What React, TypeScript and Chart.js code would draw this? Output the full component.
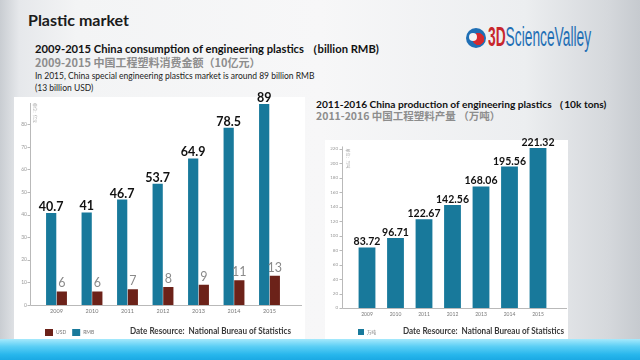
import React, { useEffect, useRef } from "react";
import { Chart, registerables } from "chart.js";

Chart.register(...registerables);

// ---- data ----
const consumptionYears = ["2009", "2010", "2011", "2012", "2013", "2014", "2015"];
const rmbValues = [40.7, 41, 46.7, 53.7, 64.9, 78.5, 89];
const usdValues = [6, 6, 7, 8, 9, 11, 13];
const consumptionTicks = [0, 10, 20, 30, 40, 50, 60, 70, 80];

const productionYears = ["2009", "2010", "2011", "2012", "2013", "2014", "2015"];
const productionValues = [83.72, 96.71, 122.67, 142.56, 168.06, 195.56, 221.32];
const productionTicks = [0, 20, 40, 60, 80, 100, 120, 140, 160, 180, 200, 220];

const BLUE = "#18799b";
const BROWN = "#6c2219";
const FONT = "Lato, 'Liberation Sans', sans-serif";

const decorPlugin = {
  id: "decor",
  afterDatasetsDraw(chart: any, _args: any, opts: any) {
    const { ctx, chartArea } = chart;
    const ys = chart.scales.y;
    const axisX = Math.round(chartArea.left - opts.leftGap) + 0.5;
    const axisY = Math.round(chartArea.bottom) + 0.5;
    ctx.save();
    ctx.strokeStyle = "#b9b9b9";
    ctx.lineWidth = 1;
    ctx.beginPath();
    ctx.moveTo(axisX, chartArea.top - 1);
    ctx.lineTo(axisX, axisY);
    ctx.lineTo(chartArea.right + opts.rightGap, axisY);
    ys.ticks.forEach((t: any) => {
      const py = Math.round(ys.getPixelForValue(t.value)) + 0.5;
      ctx.moveTo(axisX - 3, py);
      ctx.lineTo(axisX, py);
    });
    ctx.stroke();

    // value labels
    chart.data.datasets.forEach((ds: any, di: number) => {
      const st = opts.labels[di];
      const meta = chart.getDatasetMeta(di);
      ctx.font = st.font;
      ctx.fillStyle = st.color;
      ctx.textAlign = "center";
      ctx.textBaseline = "alphabetic";
      meta.data.forEach((el: any, i: number) => {
        ctx.fillText(String(ds.data[i]), el.x + (st.dx || 0), el.y - st.gap);
      });
    });

    // legend
    const lg = opts.legend;
    let lx = chartArea.left + lg.dx;
    const ly = chartArea.bottom + lg.dy;
    ctx.font = lg.font;
    ctx.textAlign = "left";
    ctx.textBaseline = "middle";
    lg.order.forEach((di: number) => {
      const ds = chart.data.datasets[di];
      ctx.fillStyle = ds.backgroundColor;
      ctx.fillRect(lx, ly, lg.boxW, lg.boxH);
      ctx.fillStyle = "#777";
      ctx.fillText(ds.label, lx + lg.boxW + 3, ly + lg.boxH / 2);
      lx += lg.boxW + 3 + ctx.measureText(ds.label).width + lg.gap;
    });

    // unit text (tiny, rotated)
    const u = opts.unit;
    ctx.save();
    ctx.translate(axisX + u.dx, chartArea.top + u.dy);
    ctx.rotate(Math.PI / 2);
    ctx.font = "4px 'Noto Sans CJK SC', sans-serif";
    ctx.fillStyle = "#aaa";
    ctx.textAlign = "left";
    ctx.textBaseline = "middle";
    ctx.fillText(u.text, 0, 0);
    ctx.restore();

    ctx.restore();
  },
};

function ConsumptionChart() {
  const ref = useRef<HTMLCanvasElement>(null);
  useEffect(() => {
    const chart = new Chart(ref.current as HTMLCanvasElement, {
      type: "bar",
      data: {
        labels: consumptionYears,
        datasets: [
          { label: "RMB", data: rmbValues, backgroundColor: BLUE },
          { label: "USD", data: usdValues, backgroundColor: BROWN },
        ],
      },
      options: {
        responsive: false,
        animation: false,
        events: [],
        categoryPercentage: 0.6,
        barPercentage: 0.96,
        layout: { padding: { top: 16, right: 14.75, left: 0, bottom: 0 } },
        scales: {
          x: {
            grid: { display: false, drawTicks: false },
            border: { display: false },
            ticks: { font: { size: 5.5, family: FONT }, color: "#777", padding: 3, maxRotation: 0 },
            afterFit: (s: any) => { s.height = 33; },
          },
          y: {
            min: 0,
            max: 89,
            grid: { display: false, drawTicks: false },
            border: { display: false },
            ticks: { font: { size: 5, family: FONT }, color: "#999", padding: 11.75 },
            afterBuildTicks: (s: any) => { s.ticks = consumptionTicks.map((v) => ({ value: v })); },
            afterFit: (s: any) => { s.width = 24.75; },
          },
        },
        plugins: {
          legend: { display: false },
          tooltip: { enabled: false },
          decor: {
            leftGap: 8.75,
            rightGap: 14.75,
            labels: [
              { font: `bold 12.5px ${FONT}`, color: "#111", gap: 2 },
              { font: `12.5px ${FONT}`, color: "#8a8a8a", gap: 4 },
            ],
            legend: { dx: 6.25, dy: 24, boxW: 8, boxH: 7, gap: 6, order: [1, 0], font: `5px ${FONT}` },
            unit: { dx: 4, dy: -1, text: "单位：亿元" },
          },
        } as any,
      },
      plugins: [decorPlugin],
    } as any);
    return () => chart.destroy();
  }, []);
  return <canvas ref={ref} width={288} height={250} style={{ position: "absolute", left: 14, top: 88 }} />;
}

function ProductionChart() {
  const ref = useRef<HTMLCanvasElement>(null);
  useEffect(() => {
    const chart = new Chart(ref.current as HTMLCanvasElement, {
      type: "bar",
      data: {
        labels: productionYears,
        datasets: [{ label: "万吨", data: productionValues, backgroundColor: BLUE }],
      },
      options: {
        responsive: false,
        animation: false,
        events: [],
        categoryPercentage: 1,
        barPercentage: 0.59,
        layout: { padding: { top: 15.5, right: 15.75, left: 0, bottom: 0 } },
        scales: {
          x: {
            grid: { display: false, drawTicks: false },
            border: { display: false },
            ticks: { font: { size: 5, family: FONT }, color: "#777", padding: 3, maxRotation: 0 },
            afterFit: (s: any) => { s.height = 30; },
          },
          y: {
            min: 0,
            max: 222,
            grid: { display: false, drawTicks: false },
            border: { display: false },
            ticks: { font: { size: 4.5, family: FONT }, color: "#999", padding: 14.75 },
            afterBuildTicks: (s: any) => { s.ticks = productionTicks.map((v) => ({ value: v })); },
            afterFit: (s: any) => { s.width = 25.75; },
          },
        },
        plugins: {
          legend: { display: false },
          tooltip: { enabled: false },
          decor: {
            leftGap: 10.75,
            rightGap: 14.75,
            labels: [{ font: `bold 10.5px ${FONT}`, color: "#111", gap: 2 }],
            legend: { dx: 5.25, dy: 21, boxW: 6, boxH: 6, gap: 6, order: [0], font: `4.5px 'Noto Sans CJK SC', sans-serif` },
            unit: { dx: 5, dy: 1, text: "单位：万吨" },
          },
        } as any,
      },
      plugins: [decorPlugin],
    } as any);
    return () => chart.destroy();
  }, []);
  return <canvas ref={ref} width={241} height={208} style={{ position: "absolute", left: 327, top: 130 }} />;
}

const abs = (o: any) => ({ position: "absolute" as const, whiteSpace: "nowrap" as const, lineHeight: 1, ...o });

export default function App() {
  useEffect(() => {
    document.body.style.margin = "0";
  }, []);
  return (
    <div
      style={{
        position: "fixed",
        left: 0,
        top: 0,
        width: 640,
        height: 360,
        overflow: "hidden",
        fontFamily: FONT,
        background:
          "linear-gradient(90deg, #c9cdd2 0%, #e6e8eb 3%, #f3f4f5 12%, #f7f7f8 50%, #eceef0 82%, #d5d8dc 95%, #c6cacf 100%)",
      }}
    >
      <div style={abs({ left: 28, top: 12, fontSize: 16, fontWeight: 700, color: "#1b1b1b" })}>Plastic market</div>
      <div style={abs({ left: 35, top: 42.5, fontSize: 11.2, fontWeight: 700, color: "#111" })}>
        2009-2015 China consumption of engineering plastics （billion RMB)
      </div>
      <div style={abs({ left: 35, top: 56.5, fontSize: 11, fontWeight: 700, color: "#8d8d8d", fontFamily: "'Noto Sans CJK SC', sans-serif" })}>
        2009-2015 中国工程塑料消费金额（10亿元）
      </div>
      <div style={abs({ left: 35, top: 72, fontSize: 8.5, color: "#222" })}>
        In 2015, China special engineering plastics market is around 89 billion RMB
      </div>
      <div style={abs({ left: 35, top: 84, fontSize: 8.5, color: "#222" })}>(13 billion USD)</div>

      {/* logo */}
      <div style={abs({ left: 466, top: 28, width: 20, height: 20, borderRadius: "50%", background: "radial-gradient(circle at 62% 55%, #d42a2f 0 35%, #1f6fb5 37% 100%)" })} />
      <div style={abs({ left: 469, top: 33, width: 8, height: 8, borderRadius: "50%", background: "#f3f4f5" })} />
      <div
        style={abs({
          left: 488,
          top: 24,
          fontSize: 27,
          fontFamily: "'Liberation Sans', sans-serif",
          transform: "scaleX(0.51)",
          transformOrigin: "left top",
          color: "#1f6fb5",
        })}
      >
        <span style={{ color: "#c8262c", fontWeight: 700 }}>3D</span>ScienceValley
      </div>

      {/* right titles */}
      <div style={abs({ left: 316, top: 99, fontSize: 10.2, fontWeight: 700, color: "#111" })}>
        2011-2016 China production of engineering plastics （10k tons)
      </div>
      <div style={abs({ left: 316, top: 110.5, fontSize: 10.5, fontWeight: 700, color: "#8d8d8d", fontFamily: "'Noto Sans CJK SC', sans-serif" })}>
        2011-2016 中国工程塑料产量 （万吨）
      </div>

      {/* panels */}
      <div style={abs({ left: 14, top: 97, width: 291, height: 243, background: "#fff" })} />
      <div style={abs({ left: 325, top: 140, width: 243, height: 200, background: "#fff" })} />

      <ConsumptionChart />
      <ProductionChart />

      <div style={abs({ left: 130, top: 326, fontSize: 9, fontWeight: 700, color: "#3a3a3a", transform: "scaleX(0.9)", transformOrigin: "left top" })}>
        Date Resource:&nbsp; National Bureau of Statistics
      </div>
      <div style={abs({ left: 403, top: 326, fontSize: 9, fontWeight: 700, color: "#3a3a3a", transform: "scaleX(0.9)", transformOrigin: "left top" })}>
        Date Resource:&nbsp; National Bureau of Statistics
      </div>

      {/* bottom strip */}
      <div style={abs({ left: 0, top: 339, width: 640, height: 21, background: "linear-gradient(180deg, #a6e9fc 0%, #5ccff5 35%, #27b6ec 75%, #1ba9e4 100%)" })} />
    </div>
  );
}
